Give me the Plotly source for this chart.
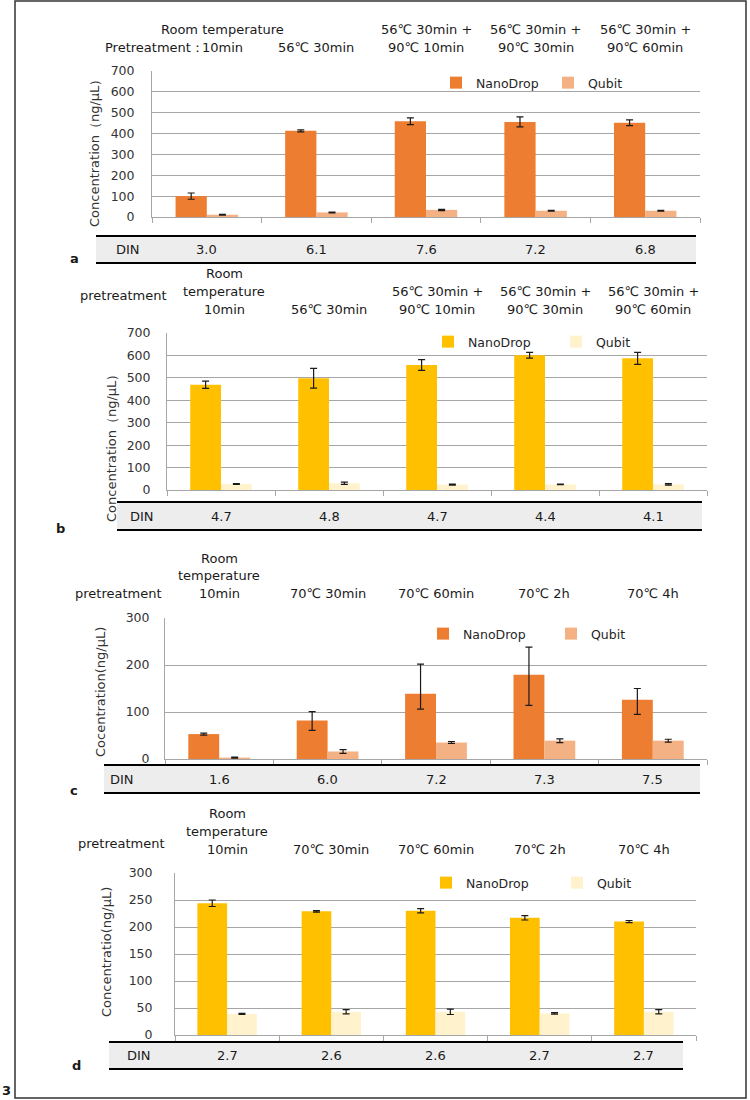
import plotly.graph_objects as go

# ---------------- data ----------------
cats_ab = ["Room temperature 10min", "56℃ 30min", "56℃ 30min + 90℃ 10min",
           "56℃ 30min + 90℃ 30min", "56℃ 30min + 90℃ 60min"]
cats_cd = ["Room temperature 10min", "70℃ 30min", "70℃ 60min", "70℃ 2h", "70℃ 4h"]

head_a = [["Room temperature", "10min"], ["56℃ 30min"], ["56℃ 30min +", "90℃ 10min"],
          ["56℃ 30min +", "90℃ 30min"], ["56℃ 30min +", "90℃ 60min"]]
head_b = [["Room", "temperature", "10min"], ["56℃ 30min"], ["56℃ 30min +", "90℃ 10min"],
          ["56℃ 30min +", "90℃ 30min"], ["56℃ 30min +", "90℃ 60min"]]
head_cd = [["Room", "temperature", "10min"], ["70℃ 30min"], ["70℃ 60min"], ["70℃ 2h"], ["70℃ 4h"]]

a_nano = [100, 413, 459, 456, 452]
a_nano_err = [15, 5, 16, 24, 14]
a_qubit = [11, 22, 34, 30, 30]
a_qubit_err = [2, 2, 3, 2, 2]
a_din = ["3.0", "6.1", "7.6", "7.2", "6.8"]

b_nano = [469, 498, 557, 601, 587]
b_nano_err = [16, 44, 24, 13, 27]
b_qubit = [27, 30, 24, 25, 25]
b_qubit_err = [2, 5, 2, 1, 3]
b_din = ["4.7", "4.8", "4.7", "4.4", "4.1"]

c_nano = [53, 82, 139, 179, 126]
c_nano_err_plus = [2, 19, 63, 59, 24]
c_nano_err_minus = [2, 21, 33, 65, 31]
c_qubit = [3, 16, 35, 39, 39]
c_qubit_err = [1, 4, 2, 4, 3]
c_din = ["1.6", "6.0", "7.2", "7.3", "7.5"]

d_nano = [244, 229, 230, 217, 210]
d_nano_err = [6, 1.5, 4, 4, 2]
d_qubit = [39, 43, 43, 40, 43]
d_qubit_err = [1, 4, 5, 1.5, 4]
d_din = ["2.7", "2.6", "2.6", "2.7", "2.7"]

ticks_ab = [0, 100, 200, 300, 400, 500, 600, 700]
ticks_c = [0, 100, 200, 300]
ticks_d = [0, 50, 100, 150, 200, 250, 300]

# ---------------- helpers ----------------
W, H = 750, 1100
FONT = "DejaVu Sans"
TXT = "#1a1a1a"
FS = 13


def X(px):
    return px / W


def Y(py):
    return 1 - py / H


ORANGE, ORANGE_L = "#ED7D31", "#F4B183"
GOLD, GOLD_L = "#FFC000", "#FFF2CC"

panels = [
    dict(letter="a", cats=cats_ab, head=head_a, nano=a_nano, nano_p=a_nano_err, nano_m=a_nano_err,
         qub=a_qubit, qub_e=a_qubit_err, din=a_din, c1=ORANGE, c2=ORANGE_L, ticks=ticks_ab, rng=700,
         x0=152, x1=700, ytop=71, ybot=217, standoff=14,
         title="Concentration（ng/μL）", tx=94, ty=150,
         head_y=47, head_sp=18, pre="Pretreatment：", pre_x=103, pre_y=47, head_shift=16,
         din_x0=96, din_x1=696, din_t=236, din_b=263, din_lx=128, let_x=74, let_y=258,
         leg_y=83, leg_x=476, leg_gap=112),
    dict(letter="b", cats=cats_ab, head=head_b, nano=b_nano, nano_p=b_nano_err, nano_m=b_nano_err,
         qub=b_qubit, qub_e=b_qubit_err, din=b_din, c1=GOLD, c2=GOLD_L, ticks=ticks_ab, rng=700,
         x0=167, x1=707, ytop=333, ybot=490, standoff=13,
         title="Concentration（ng/μL）", tx=111, ty=445,
         head_y=310, head_sp=18, pre="pretreatment", pre_x=78, pre_y=295, head_shift=3,
         din_x0=117, din_x1=702, din_t=502, din_b=530, din_lx=142, let_x=60, let_y=528,
         leg_y=342, leg_x=468, leg_gap=128),
    dict(letter="c", cats=cats_cd, head=head_cd, nano=c_nano, nano_p=c_nano_err_plus,
         nano_m=c_nano_err_minus,
         qub=c_qubit, qub_e=c_qubit_err, din=c_din, c1=ORANGE, c2=ORANGE_L, ticks=ticks_c, rng=300,
         x0=165, x1=707, ytop=618, ybot=759, standoff=12,
         title="Cocentration(ng/μL)", tx=100, ty=692,
         head_y=593, head_sp=17.5, pre="pretreatment", pre_x=73, pre_y=593, head_shift=0,
         din_x0=104, din_x1=700, din_t=765, din_b=793, din_lx=122, let_x=74, let_y=790,
         leg_y=634, leg_x=463, leg_gap=128),
    dict(letter="d", cats=cats_cd, head=head_cd, nano=d_nano, nano_p=d_nano_err, nano_m=d_nano_err,
         qub=d_qubit, qub_e=d_qubit_err, din=d_din, c1=GOLD, c2=GOLD_L, ticks=ticks_d, rng=300,
         x0=175, x1=696, ytop=873, ybot=1035, standoff=19,
         title="Concentratio(ng/μL)", tx=106, ty=952,
         head_y=849, head_sp=18, pre="pretreatment", pre_x=76, pre_y=843, head_shift=0,
         din_x0=109, din_x1=683, din_t=1042, din_b=1069, din_lx=139, let_x=76, let_y=1065,
         leg_y=883, leg_x=466, leg_gap=131),
]

fig = go.Figure()
annotations = []
shapes = []
layout = {}

for i, p in enumerate(panels):
    n = "" if i == 0 else str(i + 1)
    xa, ya = "x" + n, "y" + n
    leg = "legend" + n
    err_style = dict(type="data", color="#1a1a1a", thickness=1.2, width=3.5)
    fig.add_trace(go.Bar(
        x=p["cats"], y=p["nano"], name="NanoDrop", marker_color=p["c1"], marker_line_width=0,
        error_y=dict(array=p["nano_p"], arrayminus=p["nano_m"], symmetric=False, **err_style),
        xaxis=xa, yaxis=ya, legend=leg))
    fig.add_trace(go.Bar(
        x=p["cats"], y=p["qub"], name="Qubit", marker_color=p["c2"], marker_line_width=0,
        error_y=dict(array=p["qub_e"], **err_style),
        xaxis=xa, yaxis=ya, legend=leg))

    layout["xaxis" + n] = dict(
        domain=[X(p["x0"]), X(p["x1"])], anchor=ya, type="category",
        categoryorder="array", categoryarray=p["cats"], range=[-0.5, 4.5],
        showticklabels=False, ticks="outside", tickson="boundaries", ticklen=5,
        tickcolor="#A6A6A6", showline=True, linecolor="#A6A6A6", linewidth=1,
        showgrid=False, fixedrange=True)
    layout["yaxis" + n] = dict(
        domain=[Y(p["ybot"]), Y(p["ytop"])], anchor=xa, range=[0, p["rng"]],
        tickmode="array", tickvals=p["ticks"], ticktext=[str(t) for t in p["ticks"]],
        showgrid=True, gridcolor="#A6A6A6", gridwidth=1, showline=True,
        linecolor="#A6A6A6", linewidth=1, ticks="", ticklabelstandoff=p["standoff"],
        tickfont=dict(size=12.5, color="#333333", family=FONT), zeroline=False,
        fixedrange=True)

    layout[leg] = dict(
        x=X(p["leg_x"] - 40), y=Y(p["leg_y"]), xanchor="left", yanchor="middle",
        orientation="h", entrywidth=p["leg_gap"] - 45, entrywidthmode="pixels",
        font=dict(size=12.5, color="#262626", family=FONT), bgcolor="rgba(0,0,0,0)",
        itemclick=False, itemdoubleclick=False, borderwidth=0)

    # headers above each category
    for k, lines in enumerate(p["head"]):
        nl = len(lines)
        for j, line in enumerate(lines):
            py = p["head_y"] - (nl - 1 - j) * p["head_sp"]
            annotations.append(dict(
                x=p["cats"][k], xref=xa, y=Y(py), yref="paper", text=line, showarrow=False,
                xanchor="center", yanchor="middle",
                xshift=p["head_shift"] if k == 0 else 0,
                font=dict(size=FS, color=TXT, family=FONT)))
    annotations.append(dict(
        x=X(p["pre_x"]), xref="paper", y=Y(p["pre_y"]), yref="paper", text=p["pre"],
        showarrow=False, xanchor="left", yanchor="middle",
        font=dict(size=FS, color=TXT, family=FONT)))

    # y title
    annotations.append(dict(
        x=X(p["tx"]), xref="paper", y=Y(p["ty"]), yref="paper", text=p["title"],
        showarrow=False, textangle=-90, xanchor="center", yanchor="middle",
        font=dict(size=13, color="#333333", family=FONT)))

    # DIN row
    shapes.append(dict(type="rect", xref="paper", yref="paper",
                       x0=X(p["din_x0"]), x1=X(p["din_x1"]), y0=Y(p["din_b"]), y1=Y(p["din_t"]),
                       fillcolor="#EDEDED", line=dict(width=0), layer="below"))
    for yy in (p["din_t"], p["din_b"]):
        shapes.append(dict(type="line", xref="paper", yref="paper",
                           x0=X(p["din_x0"]), x1=X(p["din_x1"]), y0=Y(yy), y1=Y(yy),
                           line=dict(color="#000000", width=2)))
    ymid = (p["din_t"] + p["din_b"]) / 2
    annotations.append(dict(
        x=X(p["din_lx"]), xref="paper", y=Y(ymid), yref="paper", text="DIN", showarrow=False,
        xanchor="center", yanchor="middle", font=dict(size=FS, color=TXT, family=FONT)))
    for k, v in enumerate(p["din"]):
        annotations.append(dict(
            x=p["cats"][k], xref=xa, y=Y(ymid), yref="paper", text=v, showarrow=False,
            xanchor="center", yanchor="middle", font=dict(size=FS, color=TXT, family=FONT)))

    # panel letter
    annotations.append(dict(
        x=X(p["let_x"]), xref="paper", y=Y(p["let_y"]), yref="paper", text="<b>%s</b>" % p["letter"],
        showarrow=False, xanchor="center", yanchor="middle",
        font=dict(size=13, color=TXT, family=FONT)))

# outer frame and figure number
shapes.append(dict(type="rect", xref="paper", yref="paper", x0=X(15), x1=X(746), y0=Y(1098), y1=Y(1),
                   line=dict(color="#333333", width=1.5), fillcolor="rgba(0,0,0,0)"))
annotations.append(dict(x=X(6), xref="paper", y=Y(1090), yref="paper", text="<b>3</b>",
                        showarrow=False, xanchor="center", yanchor="middle",
                        font=dict(size=13, color=TXT, family=FONT)))

fig.update_layout(
    width=W, height=H, margin=dict(l=0, r=0, t=0, b=0, autoexpand=False),
    paper_bgcolor="white", plot_bgcolor="white",
    barmode="group", bargap=0.43, bargroupgap=0,
    font=dict(family=FONT, color=TXT),
    annotations=annotations, shapes=shapes, **layout)

fig.write_html("out.html", config={"displayModeBar": False, "staticPlot": True},
               post_script="document.body.style.margin='0';document.body.style.overflow='hidden';")
